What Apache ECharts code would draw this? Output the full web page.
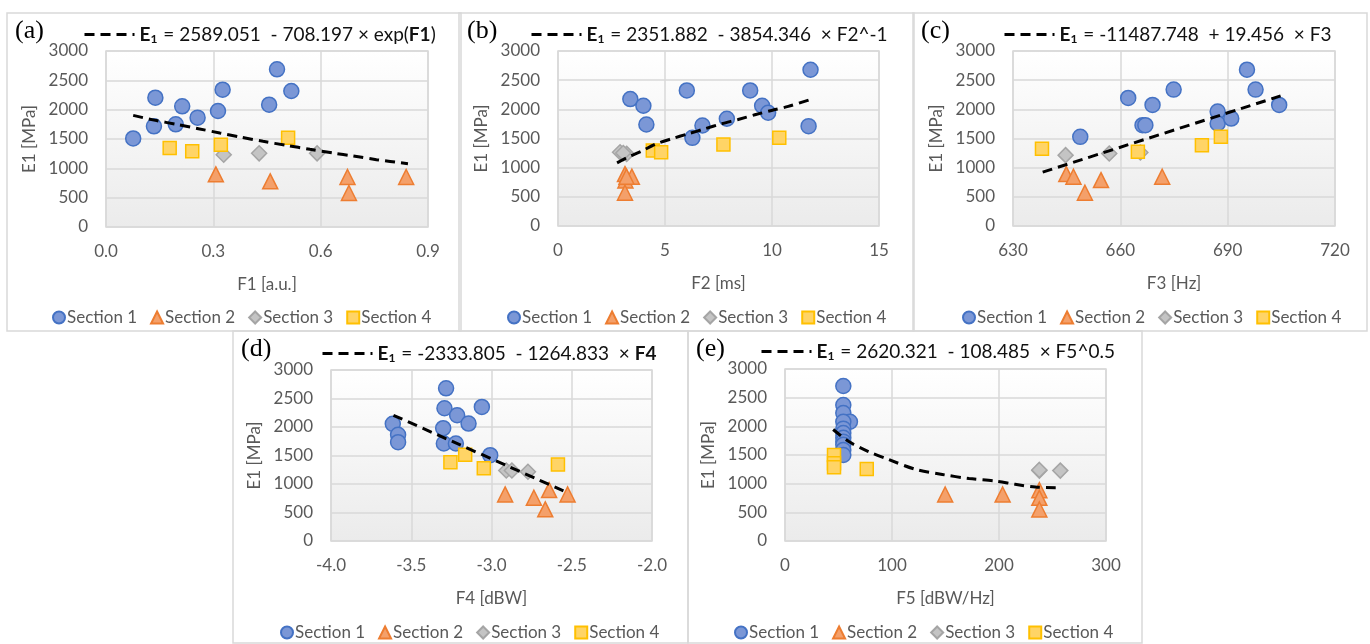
<!DOCTYPE html>
<html>
<head>
<meta charset="utf-8">
<title>E1 vs F1-F5</title>
<script src="https://cdn.jsdelivr.net/npm/echarts@6/dist/echarts.min.js"></script>
<style>
  html, body { margin: 0; padding: 0; background: #fff; }
  #chart { width: 1370px; height: 644px; }
</style>
</head>
<body>
<div id="chart"></div>
<script>
// values: [feature, E1 (MPa)]
const sectionNames = ['Section 1', 'Section 2', 'Section 3', 'Section 4']
const yTicks = [0, 3000, 500]

const a_s1 = [[0.076, 1510], [0.134, 1716], [0.138, 2204], [0.195, 1750], [0.213, 2057], [0.256, 1864], [0.313, 1977], [0.326, 2341], [0.456, 2085], [0.478, 2688], [0.518, 2318]]
const a_s2 = [[0.307, 898], [0.459, 778], [0.675, 852], [0.679, 580], [0.839, 852]]
const a_s3 = [[0.329, 1233], [0.428, 1256], [0.590, 1256]]
const a_s4 = [[0.178, 1347], [0.241, 1290], [0.321, 1403], [0.509, 1523]]
const a_fit = [[0.076, 1903], [0.138, 1818], [0.197, 1750], [0.258, 1676], [0.318, 1602], [0.374, 1534], [0.439, 1460], [0.504, 1392], [0.570, 1324], [0.635, 1261], [0.691, 1210], [0.756, 1148], [0.844, 1080]]

const b_s1 = [[3.38, 2176], [3.99, 2061], [4.13, 1740], [6.02, 2324], [6.28, 1511], [6.75, 1723], [7.89, 1838], [8.98, 2324], [9.54, 2061], [9.82, 1941], [11.80, 2679], [11.71, 1712]]
const b_s2 = [[3.13, 890], [3.15, 780], [3.45, 845], [3.13, 570], [3.20, 845]]
const b_s3 = [[2.90, 1264], [3.21, 1236], [3.05, 1250]]
const b_s4 = [[4.43, 1294], [4.82, 1265], [7.73, 1397], [10.34, 1511]]
const b_fit = [[2.76, 1082], [3.27, 1179], [3.90, 1282], [4.52, 1397], [5.30, 1494], [6.08, 1580], [6.86, 1666], [7.64, 1752], [8.42, 1826], [9.20, 1906], [9.98, 1981], [10.76, 2050], [11.85, 2176]]

const c_s1 = [[648.8, 1528], [662.2, 2196], [666.2, 1728], [667.0, 1728], [669.0, 2076], [674.9, 2338], [687.2, 1962], [687.2, 1757], [691.0, 1842], [695.4, 2680], [697.8, 2338], [704.4, 2076]]
const c_s2 = [[644.9, 890], [646.9, 844], [650.1, 570], [654.6, 787], [671.7, 844]]
const c_s3 = [[644.7, 1215], [656.9, 1243], [665.6, 1260]]
const c_s4 = [[638.1, 1323], [664.9, 1272], [682.8, 1386], [688.1, 1528]]
const c_fit = [[638.3, 924], [704.8, 2230]]

const d_s1 = [[-3.283, 2679], [-3.293, 2329], [-3.214, 2206], [-3.143, 2060], [-3.060, 2352], [-3.301, 1979], [-3.297, 1710], [-3.222, 1710], [-3.008, 1506], [-3.615, 2055], [-3.582, 1862], [-3.582, 1734]]
const d_s2 = [[-2.915, 817], [-2.736, 759], [-2.641, 893], [-2.665, 555], [-2.526, 817]]
const d_s3 = [[-2.908, 1237], [-2.873, 1237], [-2.773, 1214]]
const d_s4 = [[-3.256, 1383], [-3.164, 1512], [-3.048, 1278], [-2.586, 1342]]
const d_fit = [[-3.611, 2206], [-2.524, 846]]

const e_s1 = [[54.5, 2703], [54.5, 2372], [54.5, 2233], [60.7, 2080], [54.5, 2080], [54.5, 1960], [54.5, 1884], [54.5, 1800], [54.5, 1733], [54.5, 1680], [54.5, 1587], [54.5, 1500]]
const e_s2 = [[149.7, 811], [203.4, 811], [237.7, 886], [237.7, 753], [237.7, 550]]
const e_s3 = [[237.7, 1228], [257.3, 1228], [237.7, 1240]]
const e_s4 = [[45.8, 1500], [45.8, 1355], [45.8, 1285], [76.4, 1256]]
const e_fit = [[45, 1945], [60, 1730], [78, 1560], [97, 1420], [122, 1250], [147, 1160], [172, 1090], [197, 1045], [215, 990], [234, 940], [253, 930]]

const FONT = 'Lato, "Open Sans", sans-serif'
const TXT = '#595959'
const markerStyles = [
  { symbol: 'circle', size: 15, fill: '#7b97d6', border: '#4472c4' },
  { symbol: 'triangle', size: 15, fill: '#f4a06a', border: '#ed7d31' },
  { symbol: 'diamond', size: 15, fill: '#c4c4c4', border: '#a5a5a5' },
  { symbol: 'rect', size: 13, fill: '#ffd466', border: '#ffc000' }
]

// layout of the five panels
const panels = [
  { tag: '(a)', box: [7, 13, 454, 318], grid: [106, 51, 322, 176], x: [0, 0.9, 0.3], dec: 1, xName: 'F1 [a.u.]',
    data: [a_s1, a_s2, a_s3, a_s4], fit: a_fit, fitName: 'fitA',
    eq: '{e|E}{s|1}{t| = 2589.051  - 708.197 × exp(}{b|F1}{t|)}', eqPos: [78, 20], legLeft: 47, legTop: 304 },
  { tag: '(b)', box: [459, 13, 455, 318], grid: [558, 51, 321, 175], x: [0, 15, 5], dec: 0, xName: 'F2 [ms]',
    data: [b_s1, b_s2, b_s3, b_s4], fit: b_fit, fitName: 'fitB',
    eq: '{e|E}{s|1}{t| = 2351.882  - 3854.346  × F2^-1}', eqPos: [525, 20], legLeft: 502, legTop: 304 },
  { tag: '(c)', box: [913, 13, 454, 318], grid: [1013, 51, 322, 175], x: [630, 720, 30], dec: 0, xName: 'F3 [Hz]',
    data: [c_s1, c_s2, c_s3, c_s4], fit: c_fit, fitName: 'fitC',
    eq: '{e|E}{s|1}{t| = -11487.748  + 19.456  × F3}', eqPos: [998, 20], legLeft: 957, legTop: 304 },
  { tag: '(d)', box: [233, 331, 455, 312], grid: [331, 370, 321, 171], x: [-4, -2, 0.5], dec: 1, xName: 'F4 [dBW]',
    data: [d_s1, d_s2, d_s3, d_s4], fit: d_fit, fitName: 'fitD',
    eq: '{e|E}{s|1}{t| = -2333.805  - 1264.833  × }{b|F4}', eqPos: [316, 339], legLeft: 275, legTop: 619 },
  { tag: '(e)', box: [688, 331, 454, 312], grid: [785, 369, 321, 172], x: [0, 300, 100], dec: 0, xName: 'F5 [dBW/Hz]',
    data: [e_s1, e_s2, e_s3, e_s4], fit: e_fit, fitName: 'fitE',
    eq: '{e|E}{s|1}{t| = 2620.321  - 108.485  × F5^0.5}', eqPos: [755, 337], legLeft: 729, legTop: 619 }
]

const grid = [], xAxis = [], yAxis = [], series = [], legend = [], title = [], graphic = []

panels.forEach((p, i) => {
  graphic.push({
    type: 'rect', silent: true,
    shape: { x: p.box[0], y: p.box[1], width: p.box[2], height: p.box[3] },
    style: { fill: 'none', stroke: '#d9d9d9', lineWidth: 1.5 }
  })
  title.push({
    text: p.tag, left: p.box[0] + 8, top: p.box[1] + 5, padding: 0,
    textStyle: { fontFamily: '"Liberation Serif", serif', fontSize: 26, fontWeight: 'normal', color: '#000' }
  })
  grid.push({
    left: p.grid[0], top: p.grid[1], width: p.grid[2], height: p.grid[3],
    show: true, borderColor: '#d9d9d9', borderWidth: 1.5,
    backgroundColor: { type: 'linear', x: 0, y: 0, x2: 0, y2: 1,
      colorStops: [{ offset: 0, color: '#ffffff' }, { offset: 1, color: '#ebebeb' }] }
  })
  xAxis.push({
    type: 'value', gridIndex: i, min: p.x[0], max: p.x[1], interval: p.x[2],
    name: p.xName, nameLocation: 'middle', nameGap: 49,
    nameTextStyle: { color: TXT, fontSize: 17, fontFamily: FONT },
    axisLine: { show: false }, axisTick: { show: false },
    axisLabel: { color: TXT, fontSize: 17, fontFamily: FONT, margin: 16,
      formatter: v => v.toFixed(p.dec) },
    splitLine: { lineStyle: { color: '#d9d9d9', width: 1.5 } }
  })
  yAxis.push({
    type: 'value', gridIndex: i, min: yTicks[0], max: yTicks[1], interval: yTicks[2],
    name: 'E1 [MPa]', nameLocation: 'middle', nameGap: 68, nameRotate: 90,
    nameTextStyle: { color: TXT, fontSize: 17, fontFamily: FONT },
    axisLine: { show: false }, axisTick: { show: false },
    axisLabel: { color: TXT, fontSize: 17, fontFamily: FONT, margin: 18, formatter: v => String(v) },
    splitLine: { lineStyle: { color: '#d9d9d9', width: 1.5 } }
  })
  p.data.forEach((d, k) => {
    const m = markerStyles[k]
    series.push({
      name: sectionNames[k], type: 'scatter', xAxisIndex: i, yAxisIndex: i,
      symbol: m.symbol, symbolSize: m.size, data: d, z: 2 + k,
      itemStyle: { color: m.fill, borderColor: m.border, borderWidth: 1.5, opacity: 1 }
    })
  })
  series.push({
    name: p.fitName, type: 'line', xAxisIndex: i, yAxisIndex: i, data: p.fit,
    smooth: 0.3, symbol: 'none', showSymbol: false, z: 10, color: '#000',
    lineStyle: { color: '#000', width: 3, type: [10, 6] }
  })
  legend.push({
    data: sectionNames, left: p.legLeft, top: p.legTop, itemWidth: 12, itemHeight: 12, itemGap: 13,
    selectedMode: false,
    textStyle: { color: TXT, fontSize: 17, fontFamily: FONT, padding: [0, 0, 0, -3] }
  })
  legend.push({
    data: [p.fitName], left: p.eqPos[0], top: p.eqPos[1], itemWidth: 50, itemHeight: 14,
    selectedMode: false,
    itemStyle: { opacity: 0 },
    lineStyle: { color: '#000', width: 3, type: [10, 6], opacity: 1 },
    formatter: () => p.eq,
    textStyle: { fontFamily: FONT, rich: {
      e: { fontSize: 19, fontWeight: 'bold', color: '#111', fontFamily: FONT },
      t: { fontSize: 19, color: '#111', fontFamily: FONT },
      b: { fontSize: 19, fontWeight: 'bold', color: '#111', fontFamily: FONT },
      s: { fontSize: 12, fontWeight: 'bold', color: '#111', fontFamily: FONT, padding: [10, 1, 0, 0] }
    } }
  })
})

const chart = echarts.init(document.getElementById('chart'), null, { renderer: 'canvas' })
chart.setOption({
  backgroundColor: '#ffffff',
  animation: false,
  title, grid, xAxis, yAxis, series, legend, graphic
})
window.addEventListener('resize', () => chart.resize())
</script>
</body>
</html>
